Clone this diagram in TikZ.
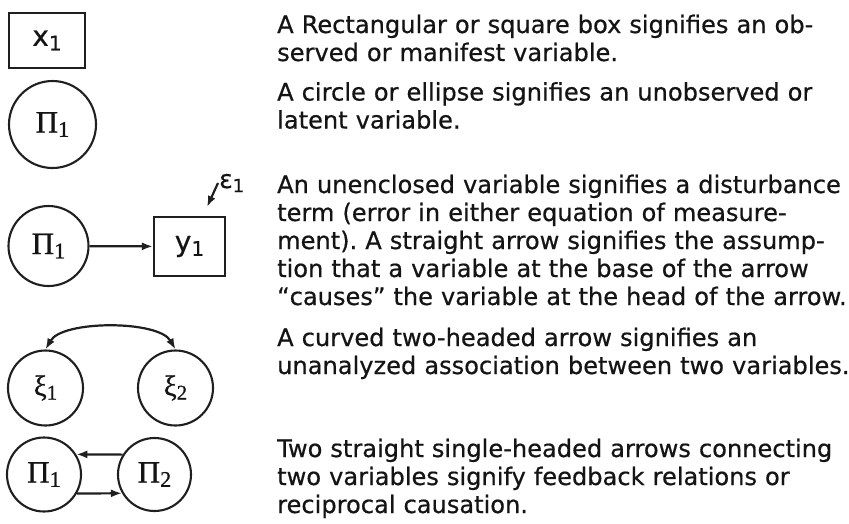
\documentclass[tikz,border=0pt]{standalone}
\usepackage{fontspec}
\setmainfont{DejaVu Sans}[UprightFeatures={FakeBold=0.6}]
\newfontfamily\greekSerif{Liberation Serif}[UprightFeatures={FakeBold=0.8}]
\newcommand{\idx}[1]{\raisebox{-0.3ex}{\scalebox{0.72}{#1}}}
\usetikzlibrary{arrows.meta,positioning}

\begin{document}
\frenchspacing
\begin{tikzpicture}[
    x=1pt, y=-1pt,
    font=\fontsize{24.1}{28}\selectfont,
    text=black!92,
    obsNode/.style={
        rectangle, draw=black!88, line width=2.1pt, inner sep=0pt,
        font=\fontsize{28}{30}\selectfont
    },
    latNode/.style={
        circle, draw=black!88, line width=2.1pt, inner sep=0pt,
        font=\greekSerif\fontsize{31}{32}\selectfont
    },
    descText/.style={
        anchor=base west, align=left, text width=580pt, inner sep=0pt
    },
    pathArrow/.style={
        -{Latex[length=11pt, width=8pt]}, line width=2.2pt, draw=black!88
    },
    assocArrow/.style={
        {Latex[length=11pt, width=8pt]}-{Latex[length=11pt, width=8pt]},
        line width=2.2pt, draw=black!88
    }
]
\useasboundingbox (0,0) rectangle (849,523);

% Left: symbols
\node[obsNode, minimum width=76pt, minimum height=55pt] (xbox) at (47,40.5) {x\idx{1}};
\node[latNode, minimum size=87pt] (eta) at (52.5,124.5) {Π\idx{1}};

\node[latNode, minimum size=80pt] (cause) at (48.5,246) {Π\idx{1}};
\node[obsNode, minimum width=71pt, minimum height=59pt] (ybox) at (189.5,246.5) {y\idx{1}};
\node[anchor=west, inner sep=1pt, font=\fontsize{25}{26}\selectfont] (eps) at (218,183) {ε\idx{1}};
\coordinate (epsTip) at (207,207);

\node[latNode, minimum size=75pt, font=\greekSerif\fontsize{29}{30}\selectfont] (xiA) at (45.5,388) {ξ\idx{1}};
\node[latNode, minimum size=75pt, font=\greekSerif\fontsize{29}{30}\selectfont] (xiB) at (175.5,388) {ξ\idx{2}};

\node[latNode, minimum size=74pt] (fbA) at (44,474.5) {Π\idx{1}};
\node[latNode, minimum size=73pt] (fbB) at (154.5,474.5) {Π\idx{2}};

% Connectors
\draw[pathArrow] (cause) -- (ybox);
\draw[pathArrow] (eps.west) -- (epsTip);
\draw[assocArrow] (xiA.north) to[out=60, in=120, looseness=0.67] (xiB.north);
\draw[pathArrow] (fbB.148) -- (fbA.32);
\draw[pathArrow] (fbA.-30) -- (fbB.210);

% Right: descriptions
\node[descText] (txtObs) at (277,33) {A Rectangular or square box signifies an ob-\\served or manifest variable.};
\node[descText] (txtLat) at (277,100.5) {A circle or ellipse signifies an unobserved or\\latent variable.};
\node[descText] (txtErr) at (277,193) {An unenclosed variable signifies a disturbance\\term (error in either equation of measure-\\ment). A straight arrow signifies the assump-\\tion that a variable at the base of the arrow\\“causes” the variable at the head of the arrow.};
\node[descText] (txtAssoc) at (277,346) {A curved two-headed arrow signifies an\\unanalyzed association between two variables.};
\node[descText] (txtFeed) at (277,457) {Two straight single-headed arrows connecting\\two variables signify feedback relations or\\reciprocal causation.};

\end{tikzpicture}
\end{document}
